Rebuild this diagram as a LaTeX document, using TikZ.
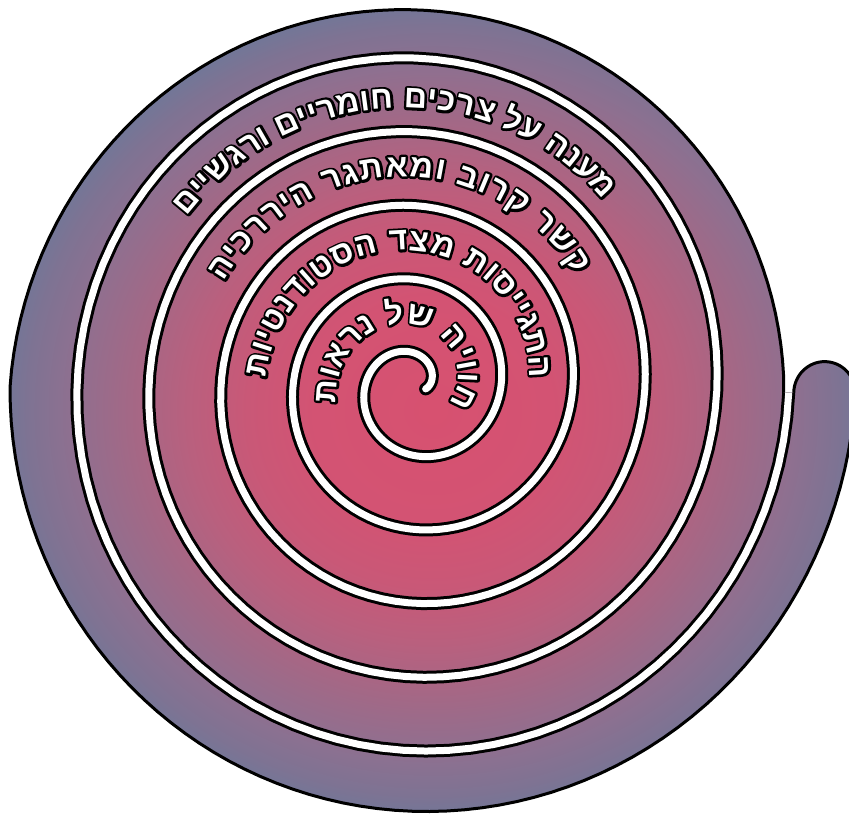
\documentclass[tikz,border=0pt]{standalone}
\usepackage{fontspec}
\usetikzlibrary{decorations.text}
\TeXXeTstate=1
\newfontfamily\hebfont[Script=Hebrew]{Liberation Sans}
\newcommand{\hebtext}{\hebfont\bfseries\fontsize{32pt}{32pt}\selectfont}
% black rim under the letters, then the white letters
\newcommand{\textrim}{\color{black}\special{pdf:literal direct 2 Tr 4.8 w 1 j}\hebtext}
\newcommand{\textface}{\color{white}\special{pdf:literal direct 0 Tr}\hebtext}
\definecolor{spinkA}{HTML}{D75170}
\definecolor{spinkB}{HTML}{D35373}
\definecolor{spinkC}{HTML}{C95877}
\definecolor{smauveA}{HTML}{B9607E}
\definecolor{smauveB}{HTML}{A36886}
\definecolor{spurple}{HTML}{8E7090}
\definecolor{sslateA}{HTML}{7E7393}
\definecolor{sslateB}{HTML}{687A9B}
\pgfdeclareradialshading{spiralshade}{\pgfpointorigin}{%
  color(0bp)=(spinkA); color(7bp)=(spinkB); color(11bp)=(spinkC);
  color(14.5bp)=(smauveA); color(18bp)=(smauveB); color(21.5bp)=(spurple);
  color(24bp)=(sslateA); color(26.5bp)=(sslateB); color(50bp)=(sslateB)}
% letters go on the path one by one, left to right
\ExplSyntaxOn
\cs_new:Npn \rtlchars \beginR #1 \endR { \tl_reverse:n {#1} }
\ExplSyntaxOff
\newcommand{\spirallabel}[4]{%
  \edef\labelchars{\rtlchars#4}%
  \path[bandtext=\textrim] plot[domain=#1:#2, samples=120, variable=\t] (\t:{labr(\t)+#3});
  \path[bandtext=\textface] plot[domain=#1:#2, samples=120, variable=\t] (\t:{labr(\t)+#3});
}

\begin{document}
\begin{tikzpicture}[x=1pt, y=1.025pt,
  declare function={
    gapr(\p)=14+0.2*\p;
    rimr(\p)=gapr(\p)-5-20*max(0,sin(\p-1800))-8*max(0,-sin(\p-1800));
    labr(\p)=0.2*\p-30;
  },
  rim/.style={draw=black, line width=3pt},
  bandtext/.style={decorate, decoration={text along path, text align=fit to path,
    text/.expanded={|\noexpand#1|\labelchars}}}
]
\useasboundingbox (-415pt,-432pt) rectangle (434pt,386pt);

% body of the spiral
\path[shading=spiralshade]
  plot[domain=1799:2159, samples=150, variable=\t] (\t:{rimr(\t)})
  arc[start angle=-1, delta angle=180, radius={(rimr(2159)-gapr(1799)-5)/2}]
  -- cycle;
\draw[rim]
  plot[domain=1799:2159, samples=150, variable=\t] (\t:{rimr(\t)})
  arc[start angle=-1, delta angle=180, radius={(rimr(2159)-gapr(1799)-5)/2}];

% white gap between the turns
\coordinate (inner) at (-15:{gapr(-15)});
\draw[black, line width=13pt]
  plot[domain=-15:1799, samples=500, variable=\t] (\t:{gapr(\t)});
\fill[black] (inner) circle[radius=6.5pt];
\draw[white, line width=7pt]
  plot[domain=-15:1799, samples=500, variable=\t] (\t:{gapr(\t)});
\fill[white] (inner) circle[radius=3.5pt];

% labels, outer band first
\spirallabel{1584}{1484}{-5}{\beginR מענה על צרכים חומריים ורגשיים\endR}
\spirallabel{1232}{1114}{0}{\beginR קשר קרוב ומאתגר היררכיה\endR}
\spirallabel{897}{724}{0}{\beginR התגייסות מצד הסטודנטיות\endR}
\spirallabel{552}{334}{0}{\beginR חוויה של נראות\endR}
\end{tikzpicture}
\end{document}
